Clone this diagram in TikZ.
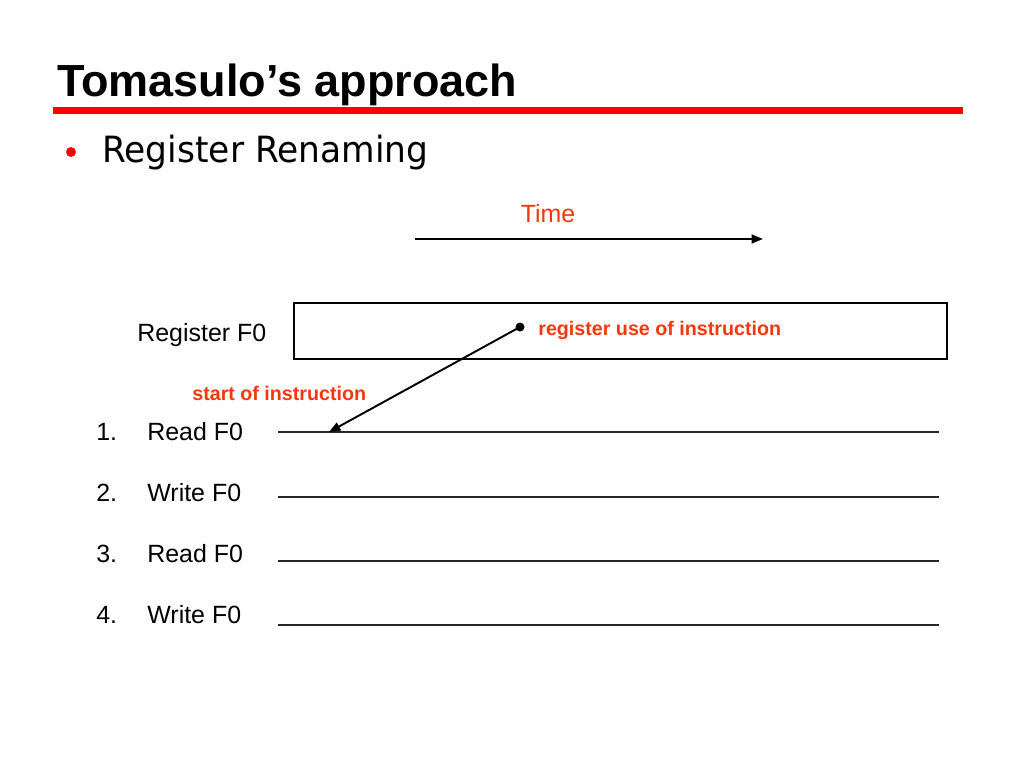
\documentclass[tikz,border=0pt]{standalone}
\usepackage{fontspec}
\setmainfont{Liberation Sans}
\newfontfamily\topicfont{DejaVu Sans}
\usetikzlibrary{positioning,arrows.meta}
\definecolor{barred}{RGB}{255,0,0}
\definecolor{notered}{RGB}{245,55,15}

\begin{document}
\begin{tikzpicture}[x=0.02cm,y=-0.02cm,
		txt/.style={anchor=base west, inner sep=0pt, font=\fontsize{14.2}{16}\selectfont},
		note/.style={anchor=base west, inner sep=0pt, text=notered, font=\fontsize{11.2}{13}\selectfont\bfseries},
		timeline/.style={draw=black!85, line width=0.6pt},
		tip/.style={line width=1.1pt, -{Triangle[length=6.5pt,width=5pt]}}]
		\useasboundingbox (0,0) rectangle (1024,768);

		% heading
		\draw (57,96) node [anchor=base west, inner sep=0pt, font=\fontsize{25.6}{28}\selectfont\bfseries] (title) {Tomasulo’s approach};
		\fill [barred] (53,107) rectangle (963,114);
		\fill [barred] (71,152) circle (5);
		\draw (102,162) node [anchor=base west, inner sep=0pt, yscale=1.05, font=\topicfont\fontsize{19.6}{22}\selectfont] (topic) {Register Renaming};

		% time axis
		\draw (548,222) node [anchor=base, inner sep=0pt, text=notered, font=\fontsize{14.2}{16}\selectfont] (time) {Time};
		\coordinate (t0) at (415,239);
		\coordinate (t1) at (763,239);
		\draw [tip] (t0) -- (t1);

		% register F0
		\draw (137,341) node [txt] (reg) {Register F0};
		\draw [line width=1.2pt] (294,303) rectangle (947,359);
		\coordinate (use) at (520,327);
		\fill (use) circle (4.5);
		\draw (538,335) node [note] (usenote) {register use of instruction};
		\draw (192,400) node [note] (startnote) {start of instruction};

		% instructions
		\foreach \n/\op/\y/\ly in {1/Read/440/432, 2/Write/501/497, 3/Read/562/561, 4/Write/623/625} {
			\draw (96,\y) node [txt] (num\n) {\n.};
			\draw (147,\y) node [txt] (op\n) {\op\ F0};
			\coordinate (line\n a) at (278,\ly);
			\coordinate (line\n b) at (939,\ly);
			\draw [timeline] (line\n a) -- (line\n b);
		}
		\coordinate (start) at (329,432);
		\draw [tip] (use) -- (start);
	\end{tikzpicture}
\end{document}
